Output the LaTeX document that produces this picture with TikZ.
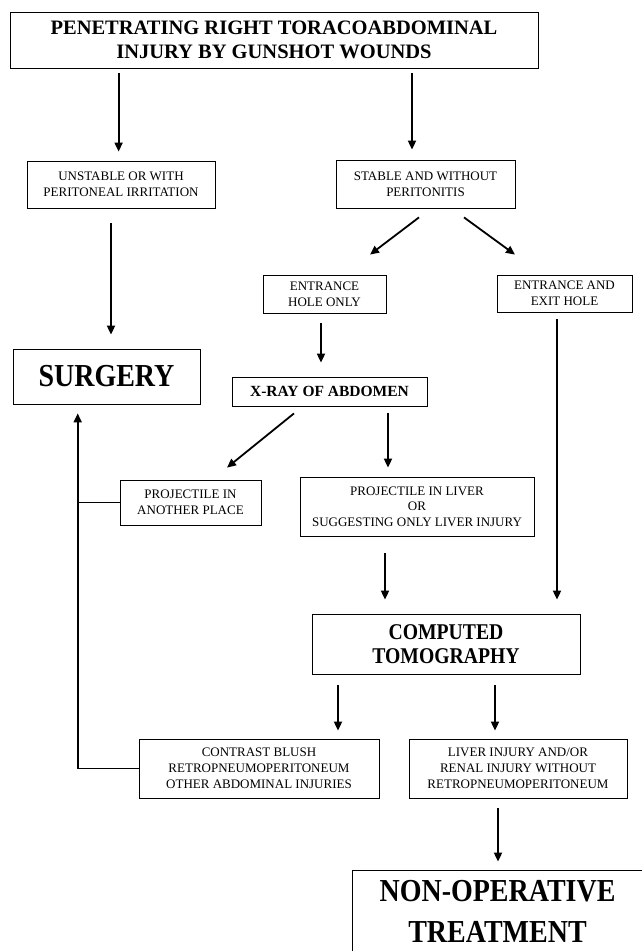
\documentclass[tikz,border=0pt]{standalone}
\usepackage{fontspec}
\setmainfont{Liberation Serif}
\newfontfamily\tallfont[FakeStretch=0.875]{Liberation Serif}
\usetikzlibrary{arrows.meta,calc}

\begin{document}
\begin{tikzpicture}[x=1pt,y=-1pt,
  box/.style={draw,line width=0.8pt,inner sep=0pt,align=center,font=\fontsize{13}{16}\selectfont},
  bigbox/.style={box,font=\tallfont\bfseries\fontsize{32}{41}\selectfont},
  arr/.style={line width=1.8pt,-{Triangle[length=9pt,width=8pt]}}]
\useasboundingbox (0,0) rectangle (641,951);
% boxes
\node[box,minimum width=528,minimum height=56,font=\bfseries\fontsize{20.5}{23.5}\selectfont] (gsw) at (274,40) {PENETRATING RIGHT TORACOABDOMINAL\\INJURY BY GUNSHOT WOUNDS};
\node[box,minimum width=188,minimum height=47] (unstable) at (121,184.5) {UNSTABLE OR WITH\\PERITONEAL IRRITATION};
\node[box,minimum width=179,minimum height=48] (stable) at (425.5,184) {STABLE AND WITHOUT\\PERITONITIS};
\node[box,minimum width=123,minimum height=38] (hole) at (324.5,294) {ENTRANCE\\HOLE ONLY};
\node[box,minimum width=135,minimum height=37] (exit) at (564.5,293.5) {ENTRANCE AND\\EXIT HOLE};
\node[bigbox,minimum width=187,minimum height=55] (surgery) at (106.5,376.5) {SURGERY};
\node[box,minimum width=195,minimum height=29,font=\bfseries\fontsize{15.5}{18}\selectfont] (xray) at (329.5,391.5) {X-RAY OF ABDOMEN};
\node[box,minimum width=141,minimum height=45] (another) at (190.5,502.5) {PROJECTILE IN\\ANOTHER PLACE};
\node[box,minimum width=234,minimum height=59,font=\fontsize{13}{15.5}\selectfont] (liver) at (417,506.5) {PROJECTILE IN LIVER\\OR\\SUGGESTING ONLY LIVER INJURY};
\node[box,minimum width=268,minimum height=60,font=\tallfont\bfseries\fontsize{22.5}{24}\selectfont] (ct) at (446,644) {COMPUTED\\TOMOGRAPHY};
\node[box,minimum width=240,minimum height=59] (contrast) at (259,768.5) {CONTRAST BLUSH\\RETROPNEUMOPERITONEUM\\OTHER ABDOMINAL INJURIES};
\node[box,minimum width=218,minimum height=59] (liverinj) at (518,768.5) {LIVER INJURY AND/OR\\RENAL INJURY WITHOUT\\RETROPNEUMOPERITONEUM};
\node[bigbox,minimum width=290,minimum height=82] (nonop) at (497.5,911) {NON-OPERATIVE\\TREATMENT};
% arrows
\draw[arr] ($(gsw.south)+(-155.4,5)$) -- ($(unstable.north)+(-2.4,-9)$);
\draw[arr] ($(gsw.south)+(138,5)$) -- ($(stable.north)+(-13.5,-10)$);
\draw[arr] ($(unstable.south)+(-10,15)$) -- ($(surgery.north)+(4.5,-14)$);
\draw[arr] ($(stable.south)+(-6.5,9)$) -- ($(hole.north)+(45.5,-20)$);
\draw[arr] ($(stable.south)+(38.5,9)$) -- ($(exit.north)+(-49.5,-20)$);
\draw[arr] ($(hole.south)+(-3.5,10)$) -- ($(xray.north)+(-8.5,-14)$);
\draw[arr] ($(exit.south)+(-7.5,7)$) -- ($(ct.north)+(111,-14)$);
\draw[arr] ($(xray.south)+(-35.5,7)$) -- ($(another.north)+(36.5,-12)$);
\draw[arr] ($(xray.south)+(58.5,7)$) -- ($(liver.north)+(-29,-9)$);
\draw[arr] ($(liver.south)+(-32,17)$) -- ($(ct.north)+(-61,-14)$);
\draw[arr] ($(ct.south)+(-108,11)$) -- ($(contrast.north)+(79,-8)$);
\draw[arr] ($(ct.south)+(49,11)$) -- ($(liverinj.north)+(-23,-8)$);
\draw[arr] ($(liverinj.south)+(-20,10)$) -- ($(nonop.north)+(0.5,-8)$);
% back to surgery
\draw[arr] (contrast.west) -| ($(surgery.south)+(-28.8,9)$);
\draw[line width=0.8pt] (another.west) -- ++(-42.3,0);
\end{tikzpicture}
\end{document}
